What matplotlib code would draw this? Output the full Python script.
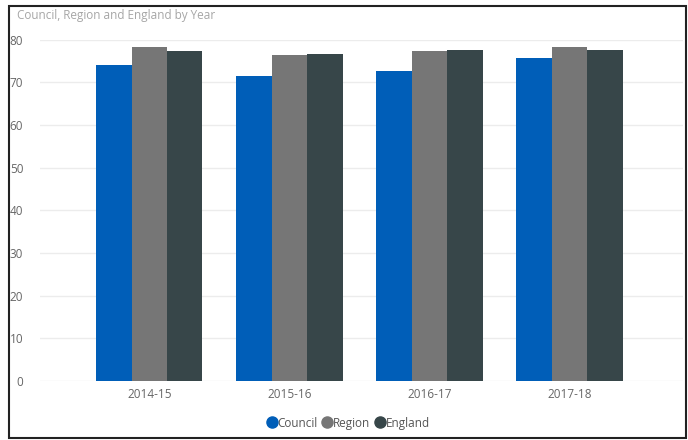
import numpy as np
import matplotlib.pyplot as plt
from matplotlib.patches import Rectangle
from matplotlib.lines import Line2D

years = ['2014-15', '2015-16', '2016-17', '2017-18']
council = [74.0, 71.6, 72.6, 75.8]
region = [78.3, 76.3, 77.3, 78.3]
england = [77.3, 76.7, 77.6, 77.6]

series = ['Council', 'Region', 'England']
colors = ['#005EB8', '#767676', '#374649']

plt.rcParams['font.family'] = ['Open Sans', 'DejaVu Sans']

fig = plt.figure(figsize=(6.88, 4.40), dpi=100)
W, H = 688, 440
ax = fig.add_axes([40 / W, 1 - 381 / H, 643 / W, (381 - 39.7) / H])

x = np.arange(len(years))
bw = 0.253
for i, (vals, c, name) in enumerate(zip([council, region, england], colors, series)):
    ax.bar(x + (i - 1) * bw, vals, bw, color=c, label=name, zorder=3)

ax.set_ylim(0, 80)
ax.set_xlim(-0.78, 3.81)
ax.set_yticks(range(0, 81, 10))
ax.set_xticks(x)
ax.set_xticklabels(years)
ax.grid(axis='y', color='#ececec', linewidth=1, zorder=0)
for s in ax.spines.values():
    s.set_visible(False)
ax.tick_params(axis='both', length=0, labelsize=8.5, labelcolor='#666666')
ax.tick_params(axis='y', pad=12)
ax.tick_params(axis='x', pad=5)

fig.text(17 / W, 1 - 16 / H, 'Council, Region and England by Year',
         fontsize=8.5, color='#a6a6a6', va='center', ha='left')

handles = [Line2D([0], [0], marker='o', linestyle='', markersize=8,
                  markerfacecolor=c, markeredgecolor=c) for c in colors]
fig.legend(handles, series, loc='center', bbox_to_anchor=(348 / W, 1 - 423 / H),
           ncol=3, frameon=False, fontsize=8.5, labelcolor='#555555',
           handletextpad=0.0, columnspacing=0.3, handlelength=1.0)

fig.add_artist(Rectangle((9 / W, 1 - 438 / H), 677 / W, 432 / H,
                         transform=fig.transFigure, fill=False,
                         edgecolor='#222222', linewidth=1.5))

fig.savefig('out.png', dpi=100)
